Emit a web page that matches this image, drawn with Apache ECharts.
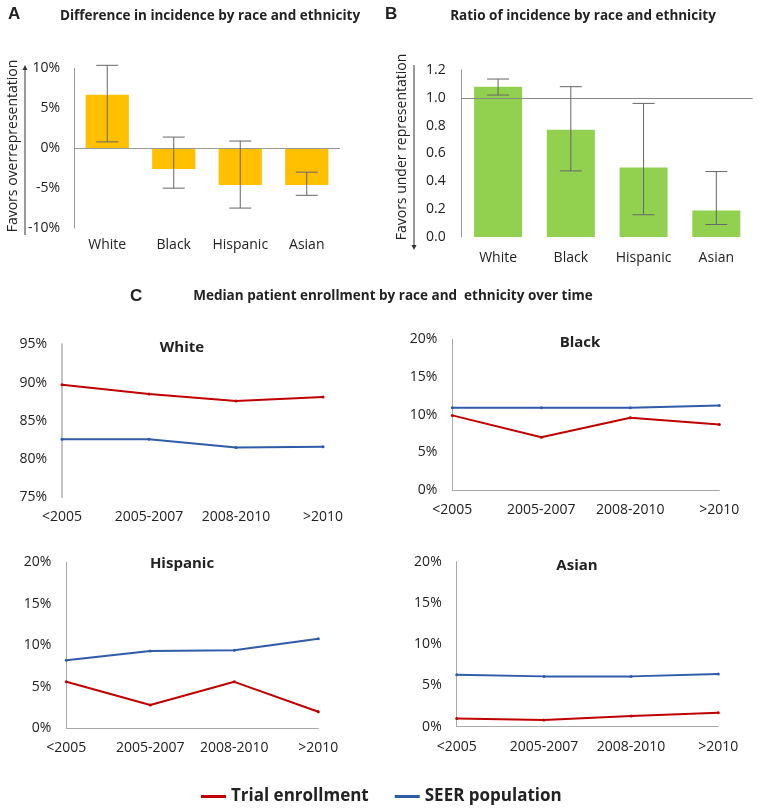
<!DOCTYPE html>
<html>
<head>
<meta charset="utf-8">
<script src="https://cdn.jsdelivr.net/npm/echarts@6/dist/echarts.min.js"></script>
<style>
html,body{margin:0;padding:0;background:#fff;}
#chart{width:759px;height:810px;}
</style>
</head>
<body>
<div id="chart"></div>
<script>
// ---- data ----
const categories = ['White', 'Black', 'Hispanic', 'Asian'];
const diffValues = [6.7, -2.6, -4.6, -4.6];
const diffLow = [0.8, -5.0, -7.5, -5.9];
const diffHigh = [10.4, 1.4, 0.9, -3.0];
const ratioValues = [1.08, 0.77, 0.50, 0.19];
const ratioLow = [1.02, 0.475, 0.16, 0.09];
const ratioHigh = [1.135, 1.08, 0.96, 0.47];
const diffTicks = [-10, -5, 0, 5, 10];
const ratioTicks = [0.0, 0.2, 0.4, 0.6, 0.8, 1.0, 1.2];

const periods = ['<2005', '2005-2007', '2008-2010', '>2010'];
const whiteTrial = [89.7, 88.5, 87.6, 88.1];
const whiteSeer = [82.6, 82.6, 81.5, 81.6];
const blackTrial = [9.9, 7.0, 9.6, 8.7];
const blackSeer = [10.9, 10.9, 10.9, 11.2];
const hispanicTrial = [5.6, 2.8, 5.6, 2.0];
const hispanicSeer = [8.2, 9.3, 9.4, 10.8];
const asianTrial = [1.0, 0.8, 1.3, 1.7];
const asianSeer = [6.3, 6.1, 6.1, 6.4];

// ---- styles ----
const FONT = '"Open Sans", "Liberation Sans", sans-serif';
const TXT = '#222';
const RED = '#C00000';
const BLUE = '#2E5CA8';

function errRender(params, api) {
  const lo = api.coord([api.value(0), api.value(1)]);
  const hi = api.coord([api.value(0), api.value(2)]);
  const w = 11;
  const st = { stroke: '#666', lineWidth: 1 };
  return {
    type: 'group',
    children: [
      { type: 'line', shape: { x1: lo[0], y1: lo[1], x2: hi[0], y2: hi[1] }, style: st },
      { type: 'line', shape: { x1: lo[0] - w, y1: lo[1], x2: lo[0] + w, y2: lo[1] }, style: st },
      { type: 'line', shape: { x1: hi[0] - w, y1: hi[1], x2: hi[0] + w, y2: hi[1] }, style: st }
    ]
  };
}

const grids = [
  { left: 74, top: 68.5, width: 266, height: 159.5 },      // A
  { left: 461.7, top: 70, width: 291, height: 167 },       // B
  { left: 62, top: 344.3, width: 261, height: 153 },       // White
  { left: 452.3, top: 339.3, width: 267, height: 150.7 },  // Black
  { left: 66.3, top: 562.3, width: 252, height: 166 },     // Hispanic
  { left: 456.7, top: 561.7, width: 261.6, height: 165 }   // Asian
];

const tickLabel = { color: TXT, fontSize: 14, fontFamily: FONT };

const xAxes = [
  { gridIndex: 0, type: 'category', data: categories, axisLine: { show: false, onZero: false }, axisTick: { show: false },
    axisLabel: Object.assign({ margin: 10, interval: 0 }, tickLabel) },
  { gridIndex: 1, type: 'category', data: categories, axisLine: { show: false }, axisTick: { show: false },
    axisLabel: Object.assign({ margin: 14, interval: 0 }, tickLabel) }
];
const yAxes = [
  { gridIndex: 0, type: 'value', min: diffTicks[0], max: diffTicks[diffTicks.length - 1], interval: 5,
    axisLine: { show: true, lineStyle: { color: '#999' } }, axisTick: { show: false }, splitLine: { show: false },
    axisLabel: Object.assign({ margin: 14, formatter: '{value}%' }, tickLabel) },
  { gridIndex: 1, type: 'value', min: ratioTicks[0], max: ratioTicks[ratioTicks.length - 1], interval: 0.2,
    axisLine: { show: true, lineStyle: { color: '#999' } }, axisTick: { show: false }, splitLine: { show: false },
    axisLabel: Object.assign({ margin: 16, formatter: v => v.toFixed(1) }, tickLabel) }
];

const lineSpecs = [
  { name: 'White', trial: whiteTrial, seer: whiteSeer, min: 75, max: 95, xLine: false, yColor: '#c4c4c4', yWidth: 2 },
  { name: 'Black', trial: blackTrial, seer: blackSeer, min: 0, max: 20, xLine: true, yColor: '#aaa', yWidth: 1 },
  { name: 'Hispanic', trial: hispanicTrial, seer: hispanicSeer, min: 0, max: 20, xLine: true, yColor: '#aaa', yWidth: 1 },
  { name: 'Asian', trial: asianTrial, seer: asianSeer, min: 0, max: 20, xLine: true, yColor: '#aaa', yWidth: 1 }
];

const series = [
  { type: 'bar', xAxisIndex: 0, yAxisIndex: 0, data: diffValues, barWidth: '65%',
    itemStyle: { color: '#FFC000' },
    markLine: { silent: true, symbol: ['none', 'none'], label: { show: false },
      lineStyle: { color: '#999', type: 'solid', width: 1 }, data: [{ yAxis: 0 }] } },
  { type: 'custom', xAxisIndex: 0, yAxisIndex: 0, renderItem: errRender, z: 5,
    encode: { x: 0, y: [1, 2] },
    data: categories.map((c, i) => [i, diffLow[i], diffHigh[i]]) },
  { type: 'bar', xAxisIndex: 1, yAxisIndex: 1, data: ratioValues, barWidth: '66%',
    itemStyle: { color: '#92D050' },
    markLine: { silent: true, symbol: ['none', 'none'], label: { show: false },
      lineStyle: { color: '#888', type: 'solid', width: 1 }, data: [{ yAxis: 1 }] } },
  { type: 'custom', xAxisIndex: 1, yAxisIndex: 1, renderItem: errRender, z: 5,
    encode: { x: 0, y: [1, 2] },
    data: categories.map((c, i) => [i, ratioLow[i], ratioHigh[i]]) }
];

lineSpecs.forEach((s, k) => {
  const gi = k + 2;
  xAxes.push({ gridIndex: gi, type: 'category', data: periods, boundaryGap: false,
    axisLine: { show: s.xLine, lineStyle: { color: '#aaa' } }, axisTick: { show: false },
    axisLabel: Object.assign({ margin: 13, interval: 0 }, tickLabel) });
  yAxes.push({ gridIndex: gi, type: 'value', min: s.min, max: s.max, interval: 5,
    axisLine: { show: true, lineStyle: { color: s.yColor, width: s.yWidth } }, axisTick: { show: false }, splitLine: { show: false },
    axisLabel: Object.assign({ margin: 15, formatter: '{value}%' }, tickLabel) });
  series.push({ type: 'line', name: 'Trial enrollment', xAxisIndex: gi, yAxisIndex: gi, data: s.trial,
    color: RED, lineStyle: { color: RED, width: 2 }, itemStyle: { color: RED },
    symbol: 'circle', symbolSize: 3, showSymbol: true });
  series.push({ type: 'line', name: 'SEER population', xAxisIndex: gi, yAxisIndex: gi, data: s.seer,
    color: BLUE, lineStyle: { color: BLUE, width: 2 }, itemStyle: { color: BLUE },
    symbol: 'circle', symbolSize: 3, showSymbol: true });
});

function txt(text, x, y, font, align) {
  return { type: 'text', x: x, y: y, silent: true,
    style: { text: text, fill: TXT, font: font, textAlign: align || 'center', textVerticalAlign: 'middle' } };
}
const letterFont = 'bold 17px "Liberation Sans", Arial, sans-serif';
const titleFont = 'bold 13.5px ' + FONT;
const subFont = 'bold 15px ' + FONT;

const graphics = [
  txt('A', 8, 14, letterFont, 'left'),
  txt('Difference in incidence by race and ethnicity', 210, 16, titleFont),
  txt('B', 385, 14, letterFont, 'left'),
  txt('Ratio of incidence by race and ethnicity', 583, 16, titleFont),
  txt('C', 130, 296, letterFont, 'left'),
  txt('Median patient enrollment by race and  ethnicity over time', 393, 296, titleFont),
  txt('White', 182, 348, subFont),
  txt('Black', 580, 343, subFont),
  txt('Hispanic', 182, 564, subFont),
  txt('Asian', 577, 566, subFont),
  Object.assign(txt('Favors overrepresentation', 13, 146, '14px ' + FONT), { rotation: Math.PI / 2 }),
  Object.assign(txt('Favors under representation', 401.7, 147, '14px ' + FONT), { rotation: Math.PI / 2 }),
  { type: 'line', silent: true, shape: { x1: 25, y1: 235, x2: 25, y2: 69 }, style: { stroke: '#333', lineWidth: 1 } },
  { type: 'polygon', silent: true, shape: { points: [[25, 65], [22.5, 70], [27.5, 70]] }, style: { fill: '#333' } },
  { type: 'line', silent: true, shape: { x1: 414, y1: 65, x2: 414, y2: 246 }, style: { stroke: '#333', lineWidth: 1 } },
  { type: 'polygon', silent: true, shape: { points: [[414, 250], [411.5, 245], [416.5, 245]] }, style: { fill: '#333' } }
];

const chart = echarts.init(document.getElementById('chart'), null, { renderer: 'canvas' });
chart.setOption({
  animation: false,
  backgroundColor: '#fff',
  grid: grids,
  xAxis: xAxes,
  yAxis: yAxes,
  series: series,
  legend: {
    data: ['Trial enrollment', 'SEER population'],
    left: 196, top: 783,
    icon: 'rect', itemWidth: 25, itemHeight: 3, itemGap: 26,
    textStyle: { color: TXT, fontSize: 17, fontWeight: 'bold', fontFamily: FONT }
  },
  graphic: graphics
});
</script>
</body>
</html>
